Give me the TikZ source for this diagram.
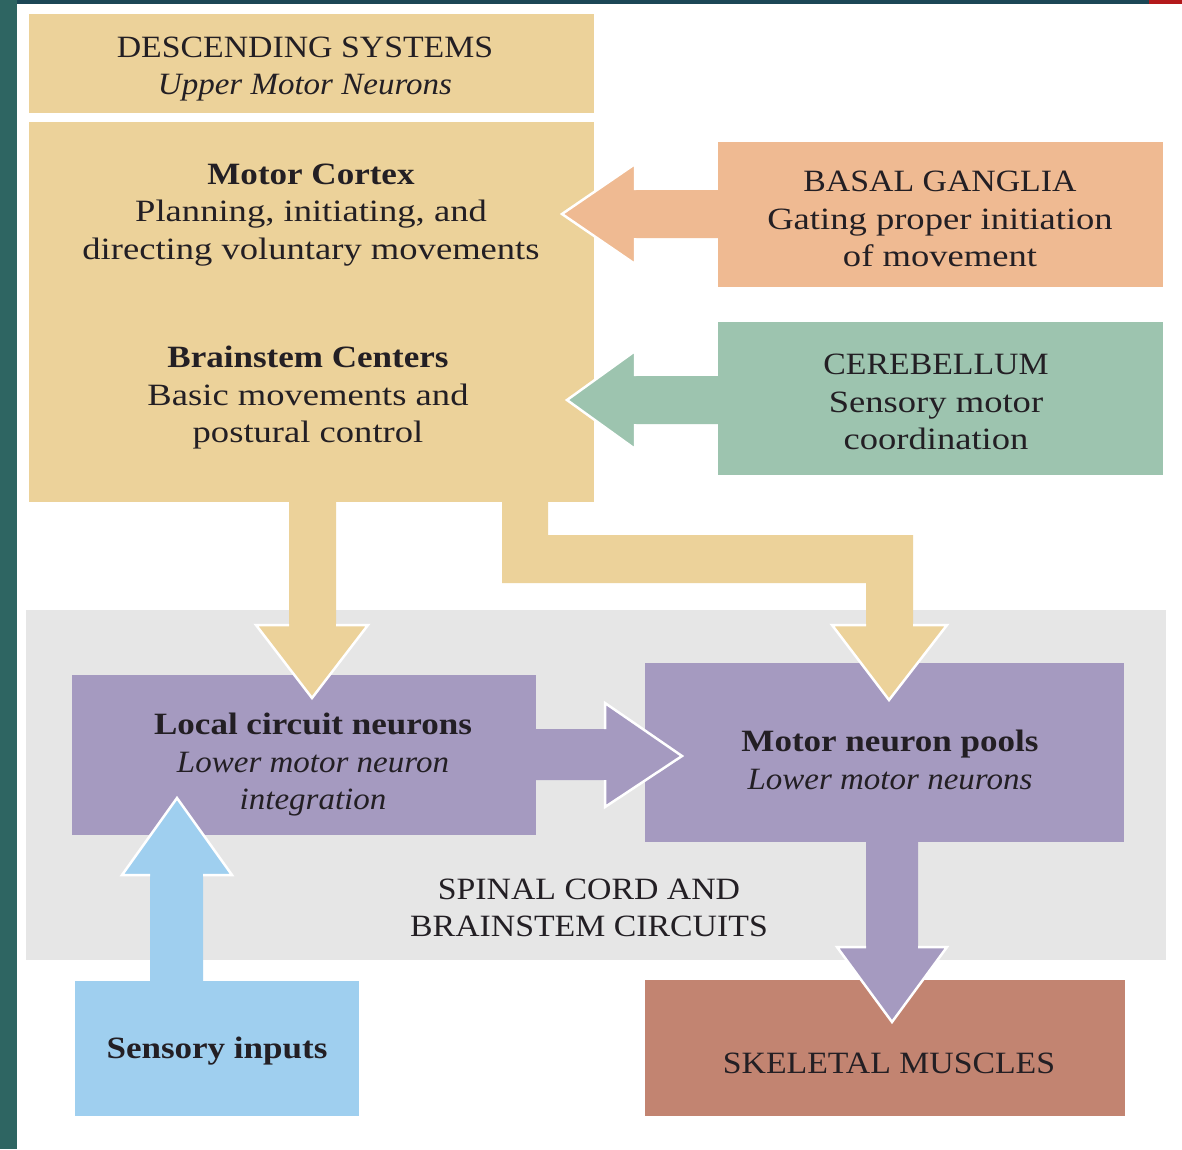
\documentclass[tikz,border=0pt]{standalone}
\usepackage{fontspec}
\setmainfont{Liberation Serif}[UprightFeatures={FakeStretch=1.18}, BoldFeatures={FakeStretch=1.13}, ItalicFeatures={FakeStretch=1.065}, BoldItalicFeatures={FakeStretch=1.1}]
\newfontfamily\capsfont{Liberation Serif}[FakeStretch=1.09]
\definecolor{yel}{HTML}{ECD29A}
\definecolor{ora}{HTML}{EFBA92}
\definecolor{grn}{HTML}{9DC4AF}
\definecolor{pur}{HTML}{A59AC0}
\definecolor{gry}{HTML}{E6E6E6}
\definecolor{blu}{HTML}{9FCFEF}
\definecolor{brn}{HTML}{C28471}
\definecolor{tealL}{HTML}{2E6562}
\definecolor{tealT}{HTML}{1C4756}
\definecolor{redT}{HTML}{B3191B}
\definecolor{ink}{HTML}{231F24}
\tikzset{
  box/.style={rectangle, draw=none, inner sep=0pt, outer sep=0pt, anchor=north west},
  txt/.style={align=center, inner sep=0pt, text=ink, font=\fontsize{31}{37.5}\selectfont},
  hd/.style={draw=white, line width=2.5pt, line join=miter, line cap=butt}
}
\begin{document}
\begin{tikzpicture}[x=1pt,y=-1pt]
\useasboundingbox (0,0) rectangle (1182,1149);
\fill[white] (0,0) rectangle (1182,1149);
% slide frame
\fill[tealL] (0,0) rectangle (17,1149);
\fill[tealT] (17,0) rectangle (1149,4);
\fill[redT] (1149,0) rectangle (1182,4);

% gray region
\node[box, fill=gry, minimum width=1140pt, minimum height=350pt] (spinal) at (26,610) {};

% boxes
\node[box, fill=yel, minimum width=565pt, minimum height=99pt] (desc) at (29,14) {};
\node[box, fill=yel, minimum width=565pt, minimum height=380pt] (cortex) at (29,122) {};
\node[box, fill=ora, minimum width=445pt, minimum height=145pt] (basal) at (718,142) {};
\node[box, fill=grn, minimum width=445pt, minimum height=153pt] (cereb) at (718,322) {};
\node[box, fill=pur, minimum width=464pt, minimum height=160pt] (local) at (72,675) {};
\node[box, fill=pur, minimum width=479pt, minimum height=179pt] (pools) at (645,663) {};
\node[box, fill=blu, minimum width=284pt, minimum height=135pt] (sensory) at (75,981) {};
\node[box, fill=brn, minimum width=480pt, minimum height=136pt] (muscle) at (645,980) {};

% arrows: basal ganglia -> cortex
\fill[ora] (718,190) -- (635,190) -- (635,164) -- (562,214) -- (635,264) -- (635,238) -- (718,238) -- cycle;
\draw[hd] (635,190) -- (635,164) -- (562,214) -- (635,264) -- (635,238);
% cerebellum -> brainstem
\fill[grn] (718,376) -- (635,376) -- (635,351) -- (567,400) -- (635,449) -- (635,424) -- (718,424) -- cycle;
\draw[hd] (635,376) -- (635,351) -- (567,400) -- (635,449) -- (635,424);
% cortex -> local circuit
\fill[yel] (289,500) -- (336,500) -- (336,625) -- (368,625) -- (312,698) -- (256,625) -- (289,625) -- cycle;
\draw[hd] (336,625) -- (368,625) -- (312,698) -- (256,625) -- (289,625);
% cortex -> pools (elbow)
\fill[yel] (502,500) -- (548,500) -- (548,535) -- (913,535) -- (913,625) -- (947,625) -- (889,700) -- (832,625) -- (866,625) -- (866,583) -- (502,583) -- cycle;
\draw[hd] (913,625) -- (947,625) -- (889,700) -- (832,625) -- (866,625);
% local -> pools
\fill[pur] (530,729) -- (605,729) -- (605,703) -- (682,756) -- (605,807) -- (605,780) -- (530,780) -- cycle;
\draw[hd] (605,729) -- (605,703) -- (682,756) -- (605,807) -- (605,780);
% sensory -> local
\fill[blu] (150,985) -- (150,875) -- (122,875) -- (177,798) -- (232,875) -- (203,875) -- (203,985) -- cycle;
\draw[hd] (150,875) -- (122,875) -- (177,798) -- (232,875) -- (203,875);
% pools -> muscles
\fill[pur] (866,838) -- (918,838) -- (918,947) -- (947,947) -- (892,1022) -- (837,947) -- (866,947) -- cycle;
\draw[hd] (918,947) -- (947,947) -- (892,1022) -- (837,947) -- (866,947);

% texts
\node[txt] (descT) at (305,69) {{\capsfont DESCENDING SYSTEMS}\\\textit{Upper Motor Neurons}};
\node[txt] (cortexT) at (311,215) {\textbf{Motor Cortex}\\Planning, initiating, and\\directing voluntary movements};
\node[txt] (brainT) at (308,398) {\textbf{Brainstem Centers}\\Basic movements and\\postural control};
\node[txt] (basalT) at (940,219) {{\capsfont BASAL GANGLIA}\\Gating proper initiation\\of movement};
\node[txt] (cerebT) at (936,402) {{\capsfont CEREBELLUM}\\Sensory motor\\coordination};
\node[txt] (localT) at (313,765) {\textbf{Local circuit neurons}\\\textit{Lower motor neuron}\\\textit{integration}};
\node[txt] (poolsT) at (890,760) {\textbf{Motor neuron pools}\\\textit{Lower motor neurons}};
\node[txt, font=\fontsize{31}{37.5}\selectfont\capsfont] (spinalT) at (589,908) {SPINAL CORD AND\\BRAINSTEM CIRCUITS};
\node[txt] (sensT) at (217,1051) {\textbf{Sensory inputs}};
\node[txt, font=\fontsize{31}{37.5}\selectfont\capsfont] (muscT) at (889,1063) {SKELETAL MUSCLES};
\end{tikzpicture}
\end{document}
